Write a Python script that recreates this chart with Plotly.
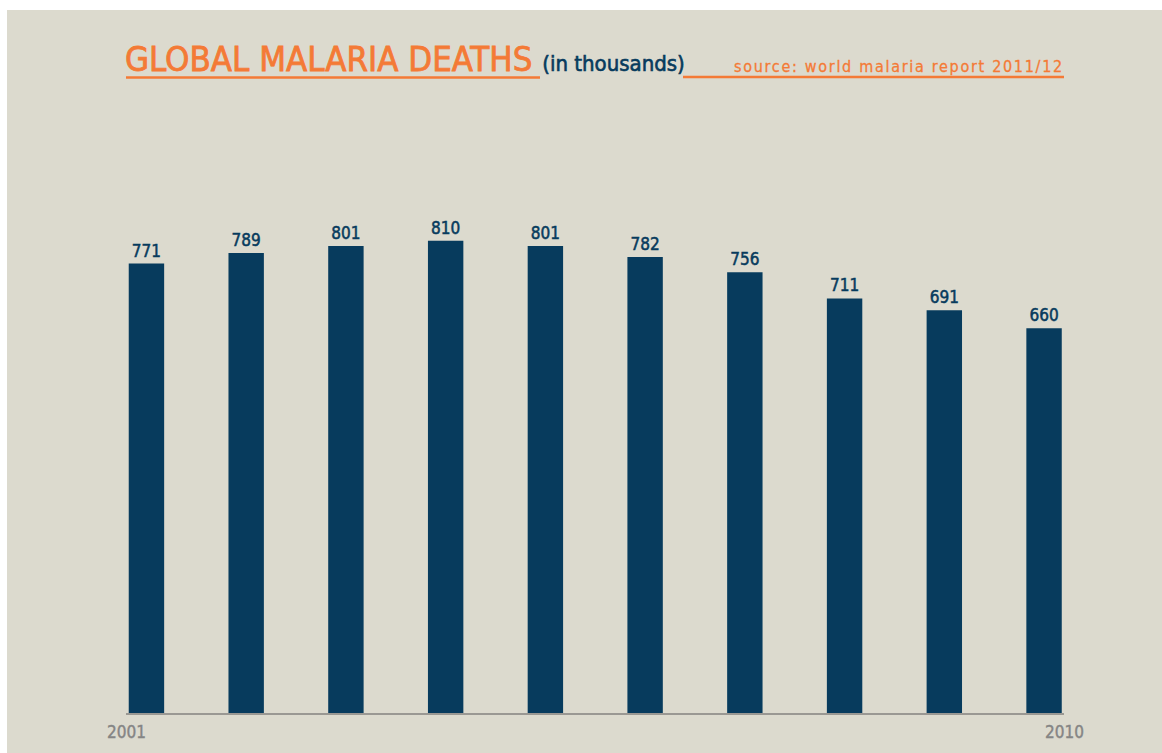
import plotly.graph_objects as go

# Global malaria deaths, thousands
years = [2001, 2002, 2003, 2004, 2005, 2006, 2007, 2008, 2009, 2010]
deaths = [771, 789, 801, 810, 801, 782, 756, 711, 691, 660]
year_labels = ["2001", "2010"]

title_text = "GLOBAL MALARIA DEATHS"
subtitle_text = "(in thousands)"
source_text = "source: world malaria report 2011/12"

W, H = 1162, 753
ML, MR, MT, MB = 126, 98, 130, 40
PW, PH = W - ML - MR, H - MT - MB

ORANGE = "#F47A36"
NAVY = "#073B5D"
BEIGE = "#DCDACE"
GREY = "#858585"
FONT = "DejaVu Sans Condensed, Liberation Sans Narrow, sans-serif"


def px_x(p):
    return (p - ML) / PW


def px_y(p):
    return (H - MB - p) / PH


def heavy(text, color, width):
    # thicken the condensed glyphs slightly with a matching outline
    return ("<span style='stroke:%s;stroke-width:%spx'>%s</span>"
            % (color, width, text))


fig = go.Figure(
    go.Bar(
        x=years,
        y=deaths,
        marker=dict(color=NAVY, line=dict(width=0)),
        text=[heavy(str(v), NAVY, 0.5) for v in deaths],
        textposition="outside",
        textfont=dict(family=FONT, size=17, color=NAVY),
        cliponaxis=False,
        hoverinfo="skip",
    )
)

shapes = [
    # thin white border along the top and left edges
    dict(type="rect", xref="paper", yref="paper", layer="below",
         x0=px_x(-20), x1=px_x(W + 20), y0=px_y(10), y1=px_y(-20),
         fillcolor="white", line=dict(width=0)),
    dict(type="rect", xref="paper", yref="paper", layer="below",
         x0=px_x(-20), x1=px_x(7), y0=px_y(H + 20), y1=px_y(-20),
         fillcolor="white", line=dict(width=0)),
    # title underlines
    dict(type="line", xref="paper", yref="paper",
         x0=px_x(126), x1=px_x(540), y0=px_y(77.5), y1=px_y(77.5),
         line=dict(color=ORANGE, width=2.5)),
    dict(type="line", xref="paper", yref="paper",
         x0=px_x(683), x1=px_x(1064), y0=px_y(77), y1=px_y(77),
         line=dict(color=ORANGE, width=2.5)),
]

annotations = [
    dict(xref="paper", yref="paper", x=px_x(123), y=px_y(81),
         xanchor="left", yanchor="bottom", showarrow=False,
         text=heavy(title_text, ORANGE, 0.8)
         + " <span style='font-size:22px;color:" + NAVY + ";stroke:" + NAVY
         + ";stroke-width:0.6px'>" + subtitle_text + "</span>",
         font=dict(family=FONT, size=34.5, color=ORANGE)),
    dict(xref="paper", yref="paper", x=px_x(1066), y=px_y(78),
         xanchor="right", yanchor="bottom", showarrow=False,
         text="<span style='letter-spacing:1.7px;stroke:" + ORANGE
         + ";stroke-width:0.3px'>" + source_text + "</span>",
         font=dict(family=FONT, size=16, color=ORANGE)),
    dict(xref="paper", yref="paper", x=0, y=px_y(732),
         xanchor="center", yanchor="middle", showarrow=False,
         text=heavy(year_labels[0], GREY, 0.4),
         font=dict(family=FONT, size=17, color=GREY)),
    dict(xref="paper", yref="paper", x=1, y=px_y(732),
         xanchor="center", yanchor="middle", showarrow=False,
         text=heavy(year_labels[1], GREY, 0.4),
         font=dict(family=FONT, size=17, color=GREY)),
]

fig.update_layout(
    width=W,
    height=H,
    margin=dict(l=ML, r=MR, t=MT, b=MB, pad=0),
    paper_bgcolor=BEIGE,
    plot_bgcolor="rgba(0,0,0,0)",
    bargap=0.645,
    showlegend=False,
    shapes=shapes,
    annotations=annotations,
    xaxis=dict(
        range=[2000.795, 2010.2],
        showgrid=False,
        zeroline=False,
        showticklabels=False,
        ticks="",
        showline=True,
        linecolor="#9A9893",
        linewidth=1.5,
    ),
    yaxis=dict(
        range=[0, 1000],
        visible=False,
        showgrid=False,
        zeroline=False,
    ),
)

fig.write_html("out.html")
